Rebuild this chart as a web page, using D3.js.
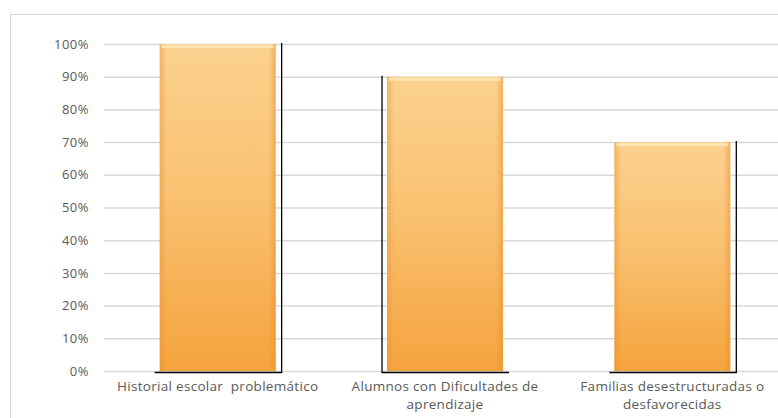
<!DOCTYPE html>
<html>
<head>
<meta charset="utf-8">
<script src="https://cdn.jsdelivr.net/npm/d3@7"></script>
<style>
  body { margin: 0; background: #fff; }
  text { font-family: "Open Sans", sans-serif; fill: #595959; white-space: pre; }
</style>
</head>
<body>
<div id="chart"></div>
<script>
var categories = ["Historial escolar  problemático", "Alumnos con Dificultades de|aprendizaje", "Familias desestructuradas o|desfavorecidas"];
var values = [1.0, 0.9, 0.7];
var frameSide = ["right", "left", "right"];
var yTicks = [0, 0.1, 0.2, 0.3, 0.4, 0.5, 0.6, 0.7, 0.8, 0.9, 1.0];

var width = 778, height = 418;

var svg = d3.select("#chart")
    .append("svg")
    .attr("width", width)
    .attr("height", height);

// chart area border (cut off on the right like the original)
svg.append("rect")
    .attr("x", 10.5)
    .attr("y", 14.5)
    .attr("width", 800)
    .attr("height", 420)
    .attr("fill", "none")
    .attr("stroke", "#d9d9d9");

var x = d3.scaleBand()
    .domain(categories)
    .range([104, 786])
    .padding(0);

var y = d3.scaleLinear()
    .domain([0, 1])
    .range([371, 44]);

var barW = x.bandwidth() * 0.51;

// gridlines + tick labels
var yAxis = svg.append("g")
    .attr("transform", "translate(104,0)")
    .call(d3.axisLeft(y).tickValues(yTicks).tickFormat(d3.format(".0%")).tickSize(-682).tickPadding(15));
yAxis.select(".domain").remove();
yAxis.selectAll(".tick line").attr("stroke", "#d9d9d9").attr("stroke-width", 1.5);
yAxis.selectAll(".tick text").attr("font-size", "13px").attr("letter-spacing", "0.5px").attr("fill", "#595959");

var defs = svg.append("defs");
var grad = defs.append("linearGradient")
    .attr("id", "barGrad")
    .attr("x1", 0).attr("y1", 0).attr("x2", 0).attr("y2", 1);
grad.append("stop").attr("offset", "0%").attr("stop-color", "#fbd18f");
grad.append("stop").attr("offset", "45%").attr("stop-color", "#f9c272");
grad.append("stop").attr("offset", "100%").attr("stop-color", "#f5a33d");

var edge = defs.append("linearGradient")
    .attr("id", "edgeGrad")
    .attr("x1", 0).attr("y1", 0).attr("x2", 1).attr("y2", 0);
edge.append("stop").attr("offset", "0%").attr("stop-color", "#e8902c").attr("stop-opacity", 0.45);
edge.append("stop").attr("offset", "6%").attr("stop-color", "#e8902c").attr("stop-opacity", 0);
edge.append("stop").attr("offset", "94%").attr("stop-color", "#e8902c").attr("stop-opacity", 0);
edge.append("stop").attr("offset", "100%").attr("stop-color", "#e8902c").attr("stop-opacity", 0.55);

var bars = svg.append("g").selectAll("g")
    .data(categories)
    .enter()
    .append("g");

function bx(d) { return x(d) + (x.bandwidth() - barW) / 2; }

bars.append("rect")
    .attr("x", bx)
    .attr("y", function(d, i) { return y(values[i]); })
    .attr("width", barW)
    .attr("height", function(d, i) { return y(0) - y(values[i]); })
    .attr("fill", "url(#barGrad)");

bars.append("rect")
    .attr("x", bx)
    .attr("y", function(d, i) { return y(values[i]); })
    .attr("width", barW)
    .attr("height", function(d, i) { return y(0) - y(values[i]); })
    .attr("fill", "url(#edgeGrad)");

// top bevel highlight
bars.append("rect")
    .attr("x", function(d) { return bx(d) + 2; })
    .attr("y", function(d, i) { return y(values[i]) + 1; })
    .attr("width", barW - 4)
    .attr("height", 3)
    .attr("fill", "#fee7b4")
    .attr("opacity", 0.9);

// black frame lines
bars.append("path")
    .attr("fill", "none")
    .attr("stroke", "#000")
    .attr("stroke-width", 1.3)
    .attr("d", function(d, i) {
        var l = bx(d) - 5, r = bx(d) + barW + 6, top = y(values[i]) - 1, b = y(0) + 1.5;
        if (frameSide[i] == "right") return "M" + l + "," + b + "H" + r + "V" + top;
        return "M" + r + "," + b + "H" + l + "V" + top;
    });

// category labels
var labels = svg.append("g").selectAll("text")
    .data(categories)
    .enter()
    .append("text")
    .attr("text-anchor", "middle")
    .attr("font-size", "13.5px")
    .attr("letter-spacing", "0.3px")
    .attr("x", function(d) { return x(d) + x.bandwidth() / 2; })
    .attr("y", 391);

labels.each(function(d) {
    var lines = d.split("|");
    var t = d3.select(this);
    lines.forEach(function(s, k) {
        t.append("tspan")
            .attr("x", t.attr("x"))
            .attr("dy", k == 0 ? 0 : 18)
            .text(s);
    });
});
</script>
</body>
</html>
